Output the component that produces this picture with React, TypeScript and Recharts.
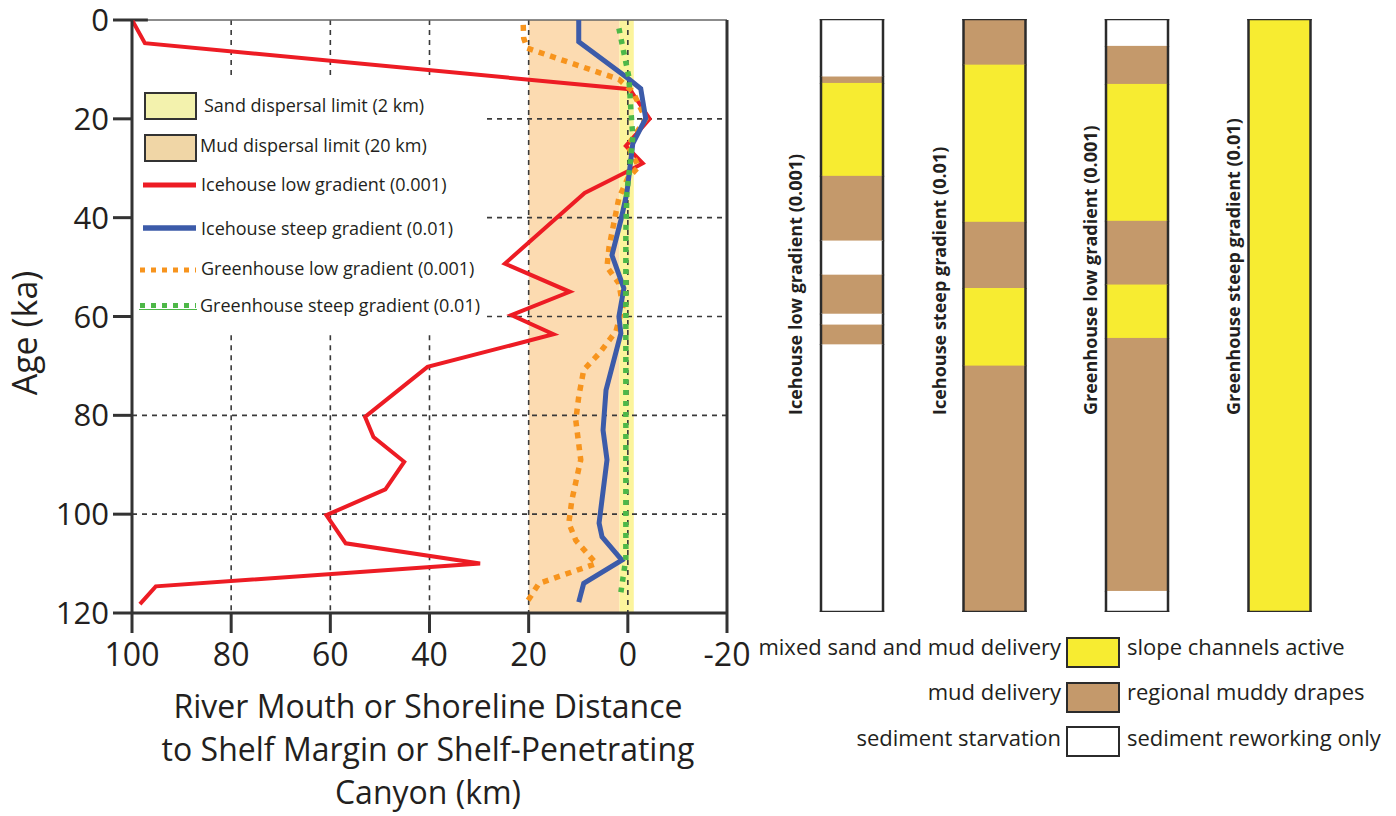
import React from 'react';
import {
  ComposedChart,
  Line,
  XAxis,
  YAxis,
  ReferenceArea,
  ReferenceLine,
  Legend,
  Label,
  BarChart,
  Bar,
} from 'recharts';

const FONT = '"Open Sans", "Noto Sans", sans-serif';
const TXT = '#231f20';
const AXIS = '#333333';
const GRID = '#3a3a3a';

// ---------- Left chart data (distance in km, age in ka) ----------
const distTicks = [100, 80, 60, 40, 20, 0, -20];
const ageTicks = [0, 20, 40, 60, 80, 100, 120];

const icehouseLowAge = [0, 4.7, 14, 20, 25.5, 29, 30.4, 35, 49.3, 55, 59.7, 63.6, 70.2, 80.3, 84.4, 89.4, 95, 100.2, 105.9, 110, 114.6, 118.2];
const icehouseLowDist = [100, 97.4, -0.4, -4.4, 0.4, -3, -0.4, 8.7, 24.8, 11.7, 23.5, 15, 40.4, 53, 51.3, 45.1, 48.9, 60.8, 56.9, 29.8, 95.2, 98.4];

const icehouseSteepAge = [0, 4.4, 11.8, 13.9, 19.9, 25, 35, 40.5, 47.6, 54.3, 60, 63.4, 74.9, 83, 89, 101.8, 104.6, 109.3, 114, 117.8];
const icehouseSteepDist = [9.9, 9.9, 0, -2.6, -3.6, -1, 0.2, 1.4, 3.2, 0.8, 1.8, 1.4, 4.4, 5, 4.2, 5.8, 5.2, 1.2, 8.9, 9.9];

const greenhouseLowAge = [1, 3.7, 5.7, 12, 14.5, 20, 23, 25.5, 29.7, 32, 36, 39, 46, 50, 53.3, 58, 63, 67.5, 70.8, 76.2, 81, 89, 97.2, 101.8, 105.3, 110, 114, 118];
const greenhouseLowDist = [21.1, 21, 20.3, 1.8, -1, -3.6, -1.6, 0, -2.2, 0, 1.8, 2.4, 3.8, 4.2, 1.8, 1, 2.4, 5.8, 8.9, 9.9, 10.5, 9.5, 11.3, 11.9, 10.5, 6.4, 17.9, 20.5];

const greenhouseSteepAge = [1.7, 11.5, 18, 23.6, 27.7, 35, 43, 61, 77, 109, 115.8];
const greenhouseSteepDist = [1.8, -0.2, -0.6, -1, -0.6, 0.2, 0.4, 0.4, 0.4, 0.4, 1.4];

const mudLimit = [20, 1.7];
const sandLimit = [1.7, -1.2];

const leftLegendLabels = [
  'Sand dispersal limit (2 km)',
  'Mud dispersal limit (20 km)',
  'Icehouse low gradient (0.001)',
  'Icehouse steep gradient (0.01)',
  'Greenhouse low gradient (0.001)',
  'Greenhouse steep gradient (0.01)',
];

const toSeries = (ages: number[], dists: number[]) => ages.map((a, i) => ({ age: a, dist: dists[i] }));

const RED = '#ed1c24';
const BLUE = '#3c5ba9';
const ORANGE = '#f7941d';
const GREEN = '#4db848';

// ---------- Right chart data (segment boundaries in ka, top -> bottom) ----------
const columnNames = [
  'Icehouse low gradient (0.001)',
  'Icehouse steep gradient (0.01)',
  'Greenhouse low gradient (0.001)',
  'Greenhouse steep gradient (0.01)',
];
const col1Bounds = [0, 11.7, 13, 31.8, 44.9, 51.8, 59.7, 61.9, 65.9, 120];
const col1Kinds = ['W', 'B', 'Y', 'B', 'W', 'B', 'W', 'B', 'W'];
const col2Bounds = [0, 9.3, 41.1, 54.5, 70.2, 120];
const col2Kinds = ['B', 'Y', 'B', 'Y', 'B'];
const col3Bounds = [0, 5.5, 13.2, 40.9, 53.8, 64.6, 115.8, 120];
const col3Kinds = ['W', 'B', 'Y', 'B', 'Y', 'B', 'W'];
const col4Bounds = [0, 120];
const col4Kinds = ['Y'];

const legendLeftTexts = ['mixed sand and mud delivery', 'mud delivery', 'sediment starvation'];
const legendRightTexts = ['slope channels active', 'regional muddy drapes', 'sediment reworking only'];
const legendKinds = ['Y', 'B', 'W'];

const SEG_COLORS: Record<string, string> = { Y: '#f7ec31', B: '#c4996b', W: '#ffffff' };

const allBounds = [col1Bounds, col2Bounds, col3Bounds, col4Bounds];
const allKinds = [col1Kinds, col2Kinds, col3Kinds, col4Kinds];
const MAXSEG = Math.max(...allKinds.map((k) => k.length));
const segKeys = Array.from({ length: MAXSEG }, (_, i) => 's' + i);

const colRows = columnNames.map((name, c) => {
  const row: any = { name, n: allKinds[c].length, kinds: allKinds[c] };
  segKeys.forEach((k, i) => {
    row[k] = i < allKinds[c].length ? +(allBounds[c][i + 1] - allBounds[c][i]).toFixed(3) : 0;
  });
  return row;
});

const labelDx = [-57, -56, -47, -47];

// ---------- components ----------
const makeSegShape = (i: number) => (props: any) => {
  const { x, y, width, height, payload } = props;
  const p = payload || {};
  if (!p.kinds || i >= p.n || !height) return <g />;
  const top = Math.min(y, y + height);
  const h = Math.abs(height);
  const st = '#2b2b2b';
  const sw = 2.5;
  return (
    <g>
      <rect x={x} y={top - 0.3} width={width} height={h + 0.6} fill={SEG_COLORS[p.kinds[i]]} />
      <line x1={x} x2={x} y1={top - 0.3} y2={top + h + 0.3} stroke={st} strokeWidth={sw} />
      <line x1={x + width} x2={x + width} y1={top - 0.3} y2={top + h + 0.3} stroke={st} strokeWidth={sw} />
      {i === 0 && <line x1={x - sw / 2} x2={x + width + sw / 2} y1={top} y2={top} stroke={st} strokeWidth={sw} />}
      {i === p.n - 1 && (
        <line x1={x - sw / 2} x2={x + width + sw / 2} y1={top + h} y2={top + h} stroke={st} strokeWidth={sw} />
      )}
    </g>
  );
};

const ColumnTick = (props: any) => {
  const { x, payload, index } = props;
  const cx = x + labelDx[index ?? 0];
  const cy = 415;
  return (
    <text
      x={cx}
      y={cy}
      transform={`rotate(-90, ${cx}, ${cy})`}
      textAnchor="start"
      dominantBaseline="central"
      fontFamily={FONT}
      fontWeight={700}
      fontSize={18}
      fill={TXT}
    >
      {payload.value}
    </text>
  );
};

const XTitle = () => (
  <text x={428} y={718} textAnchor="middle" fontFamily={FONT} fontSize={32} fill={TXT}>
    <tspan x={428} y={718}>River Mouth or Shoreline Distance</tspan>
    <tspan x={428} y={761}>to Shelf Margin or Shelf-Penetrating</tspan>
    <tspan x={428} y={804}>Canyon (km)</tspan>
  </text>
);

const YTitle = () => (
  <text
    x={24}
    y={333}
    transform="rotate(-90, 24, 333)"
    textAnchor="middle"
    dominantBaseline="central"
    fontFamily={FONT}
    fontSize={34}
    fill={TXT}
  >
    Age (ka)
  </text>
);

const LeftLegend = () => {
  const t = { fontFamily: FONT, fontSize: 18, fill: TXT } as const;
  return (
    <svg width={745} height={330} style={{ display: 'block', overflow: 'visible' }}>
      <rect x={145} y={93} width={51} height={26} fill="#f3f2ad" stroke="#333" strokeWidth={2} />
      <text x={204} y={112} {...t}>{leftLegendLabels[0]}</text>
      <rect x={145} y={135} width={51} height={26} fill="#f0d6a6" stroke="#333" strokeWidth={2} />
      <text x={200} y={152} {...t}>{leftLegendLabels[1]}</text>
      <line x1={143} x2={196} y1={185} y2={185} stroke={RED} strokeWidth={5} />
      <text x={201} y={191} {...t}>{leftLegendLabels[2]}</text>
      <line x1={143} x2={196} y1={228} y2={228} stroke={BLUE} strokeWidth={5.5} />
      <text x={201} y={235} {...t}>{leftLegendLabels[3]}</text>
      <line x1={140} x2={196} y1={270} y2={270} stroke={ORANGE} strokeWidth={5} strokeDasharray="5 6" />
      <text x={201} y={275} {...t}>{leftLegendLabels[4]}</text>
      <line x1={140} x2={196} y1={305.5} y2={305.5} stroke={GREEN} strokeWidth={5} strokeDasharray="5 6" />
      <line x1={139} x2={197} y1={309.5} y2={309.5} stroke={GREEN} strokeWidth={1} />
      <text x={200} y={312} {...t}>{leftLegendLabels[5]}</text>
    </svg>
  );
};

const RightLegend = () => {
  const t = { fontFamily: FONT, fontSize: 22, fill: TXT } as const;
  const boxTop = [638, 683, 727];
  const base = [655, 700, 746];
  return (
    <svg width={620} height={816} style={{ display: 'block', overflow: 'visible' }}>
      {legendKinds.map((k, i) => (
        <g key={k}>
          <rect x={307} y={boxTop[i]} width={52} height={29} fill={SEG_COLORS[k]} stroke="#2b2b2b" strokeWidth={2} />
          <text x={301} y={base[i]} textAnchor="end" {...t}>{legendLeftTexts[i]}</text>
          <text x={367} y={base[i]} textAnchor="start" {...t}>{legendRightTexts[i]}</text>
        </g>
      ))}
    </svg>
  );
};

export default function App() {
  const dash = '5 5';
  const gl = { stroke: GRID, strokeWidth: 1.6, strokeDasharray: dash, ifOverflow: 'visible' as const };
  return (
    <div style={{ position: 'absolute', left: 0, top: 0, width: 1396, height: 816, background: '#fff', fontFamily: FONT }}>
      <div style={{ position: 'absolute', left: 0, top: 0 }}>
        <ComposedChart width={762} height={816} layout="vertical" margin={{ top: 20, right: 35, bottom: 143, left: 0 }}>
          <XAxis
            type="number"
            dataKey="dist"
            domain={[-20, 100]}
            reversed
            ticks={distTicks}
            interval={0}
            allowDataOverflow
            height={60}
            tickSize={20}
            tickMargin={10}
            axisLine={{ stroke: AXIS, strokeWidth: 3 }}
            tickLine={{ stroke: AXIS, strokeWidth: 3 }}
            tick={{ fontSize: 32, fill: TXT, fontFamily: FONT }}
            label={<Label content={XTitle} />}
          />
          <YAxis
            type="number"
            dataKey="age"
            domain={[0, 120]}
            ticks={ageTicks}
            interval={0}
            allowDataOverflow
            width={132}
            tickSize={19}
            tickMargin={4}
            axisLine={{ stroke: AXIS, strokeWidth: 3 }}
            tickLine={{ stroke: AXIS, strokeWidth: 3 }}
            tick={{ fontSize: 31, fill: TXT, fontFamily: FONT }}
            label={<Label content={YTitle} />}
          />
          <ReferenceArea x1={mudLimit[0]} x2={mudLimit[1]} fill="#fcdbb1" fillOpacity={1} stroke="none" />
          <ReferenceArea x1={sandLimit[0]} x2={sandLimit[1]} fill="#fcf49c" fillOpacity={1} stroke="none" />
          {/* vertical dashed grid */}
          {[80, 60, 40].map((v) => (
            <ReferenceLine key={'vt' + v} segment={[{ x: v, y: 0 }, { x: v, y: 11.2 }]} {...gl} />
          ))}
          {[80, 60, 40].map((v) => (
            <ReferenceLine key={'vb' + v} segment={[{ x: v, y: 63.8 }, { x: v, y: 120 }]} {...gl} />
          ))}
          {[20, 0].map((v) => (
            <ReferenceLine key={'vf' + v} segment={[{ x: v, y: 0 }, { x: v, y: 120 }]} {...gl} />
          ))}
          {/* horizontal dashed grid */}
          {[20, 40, 60].map((v) => (
            <ReferenceLine key={'hp' + v} segment={[{ x: 28.4, y: v }, { x: -20, y: v }]} {...gl} />
          ))}
          {[80, 100].map((v) => (
            <ReferenceLine key={'hf' + v} segment={[{ x: 100, y: v }, { x: -20, y: v }]} {...gl} />
          ))}
          {/* frame */}
          <ReferenceLine segment={[{ x: 100, y: 0 }, { x: -20, y: 0 }]} stroke="#666" strokeWidth={1.5} ifOverflow="visible" />
          <ReferenceLine segment={[{ x: 100, y: 0 }, { x: 96.8, y: 0 }]} stroke={AXIS} strokeWidth={3} ifOverflow="visible" />
          <ReferenceLine segment={[{ x: -20, y: 0 }, { x: -20, y: 120 }]} stroke={AXIS} strokeWidth={3} ifOverflow="visible" />

          <Line
            data={toSeries(icehouseLowAge, icehouseLowDist)}
            dataKey="dist"
            name={leftLegendLabels[2]}
            stroke={RED}
            strokeWidth={4}
            dot={false}
            isAnimationActive={false}
          />
          <Line
            data={toSeries(greenhouseLowAge, greenhouseLowDist)}
            dataKey="dist"
            name={leftLegendLabels[4]}
            stroke={ORANGE}
            strokeWidth={5.5}
            strokeDasharray="6 6"
            dot={false}
            isAnimationActive={false}
          />
          <Line
            data={toSeries(icehouseSteepAge, icehouseSteepDist)}
            dataKey="dist"
            name={leftLegendLabels[3]}
            stroke={BLUE}
            strokeWidth={5}
            dot={false}
            isAnimationActive={false}
          />
          <Line
            data={toSeries(greenhouseSteepAge, greenhouseSteepDist)}
            dataKey="dist"
            name={leftLegendLabels[5]}
            stroke={GREEN}
            strokeWidth={5.5}
            strokeDasharray="5 6"
            dot={false}
            isAnimationActive={false}
          />
          <Legend
            layout="horizontal"
            verticalAlign="middle"
            align="center"
            content={() => <LeftLegend />}
            wrapperStyle={{ left: 0, top: 0, width: 745, height: 330, pointerEvents: 'none' }}
          />
        </ComposedChart>
      </div>
      <div style={{ position: 'absolute', left: 760, top: 0 }}>
        <BarChart
          width={620}
          height={816}
          data={colRows}
          margin={{ top: 19, right: 29, bottom: 184, left: 21 }}
          barCategoryGap={0}
          barSize={62}
        >
          <XAxis dataKey="name" type="category" height={20} axisLine={false} tickLine={false} interval={0} tick={<ColumnTick />} />
          <YAxis type="number" domain={[0, 120]} reversed hide allowDataOverflow />
          {segKeys.map((k, i) => (
            <Bar key={k} dataKey={k} stackId="col" isAnimationActive={false} shape={makeSegShape(i)} />
          ))}
          <Legend
            layout="horizontal"
            verticalAlign="middle"
            align="center"
            content={() => <RightLegend />}
            wrapperStyle={{ left: 0, top: 0, width: 620, height: 816, pointerEvents: 'none' }}
          />
        </BarChart>
      </div>
    </div>
  );
}
